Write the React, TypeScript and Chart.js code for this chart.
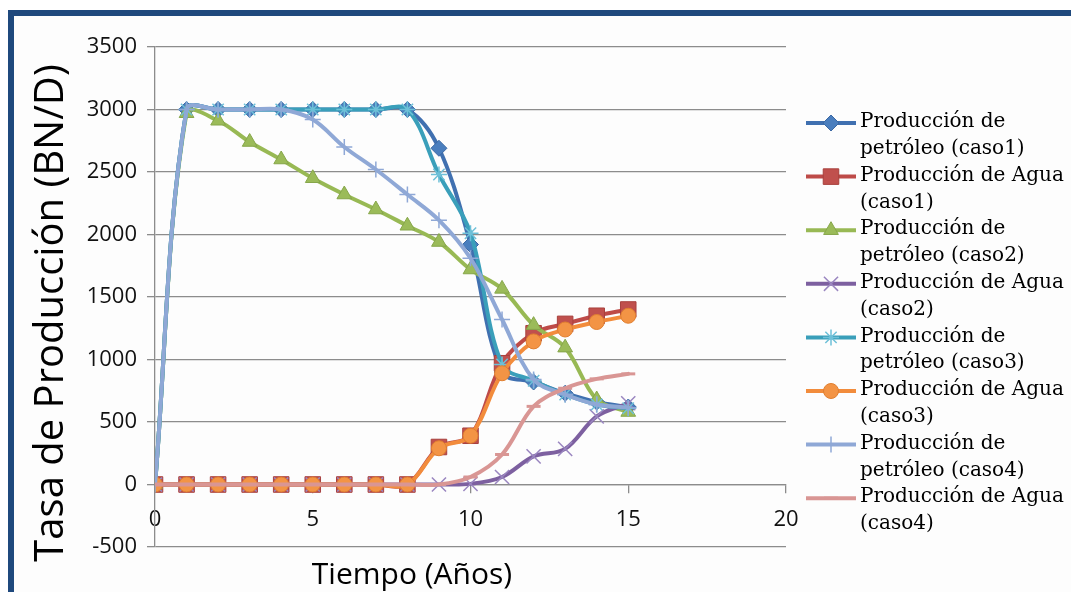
import React, { useEffect, useRef } from 'react';
import { Chart, registerables } from 'chart.js';
import { drawPoint } from 'chart.js/helpers';

Chart.register(...registerables);

// Years of simulation
const years = [0, 1, 2, 3, 4, 5, 6, 7, 8, 9, 10, 11, 12, 13, 14, 15];

// Production rates (BN/D) per case
const oilCaso1 = [0, 3000, 3000, 3000, 3000, 3000, 3000, 3000, 3000, 2690, 1920, 900, 820, 730, 660, 620];
const waterCaso1 = [0, 0, 0, 0, 0, 0, 0, 0, 0, 300, 390, 970, 1210, 1285, 1350, 1400];
const oilCaso2 = [0, 2970, 2910, 2740, 2600, 2450, 2320, 2200, 2070, 1940, 1720, 1565, 1275, 1095, 680, 580];
const waterCaso2 = [0, 0, 0, 0, 0, 0, 0, 0, 0, 0, 5, 60, 225, 285, 545, 650];
const oilCaso3 = [0, 3000, 3000, 3000, 3000, 3000, 3000, 3000, 3000, 2480, 2010, 960, 830, 720, 640, 610];
const waterCaso3 = [0, 0, 0, 0, 0, 0, 0, 0, 0, 290, 390, 890, 1145, 1240, 1300, 1350];
const oilCaso4 = [0, 3000, 3000, 3000, 3000, 2920, 2700, 2520, 2320, 2115, 1810, 1320, 840, 720, 640, 615];
const waterCaso4 = [0, 0, 0, 0, 0, 0, 0, 0, 0, 0, 60, 240, 625, 770, 845, 885];

// Legend labels (two lines each)
const seriesLabels = [
  ['Producción de', 'petróleo (caso1)'],
  ['Producción de Agua', '(caso1)'],
  ['Producción de', 'petróleo (caso2)'],
  ['Producción de Agua', '(caso2)'],
  ['Producción de', 'petróleo (caso3)'],
  ['Producción de Agua', '(caso3)'],
  ['Producción de', 'petróleo (caso4)'],
  ['Producción de Agua', '(caso4)'],
];

// Axis ticks and titles
const xTicks = [0, 5, 10, 15, 20];
const yTicks = [-500, 0, 500, 1000, 1500, 2000, 2500, 3000, 3500];
const xTitle = 'Tiempo (Años)';
const yTitle = 'Tasa de Producción (BN/D)';

const seriesValues = [oilCaso1, waterCaso1, oilCaso2, waterCaso2, oilCaso3, waterCaso3, oilCaso4, waterCaso4];

// Visual style for each series
const seriesStyles = [
  { line: '#4070B0', fill: '#4A7EBE', stroke: '#3B68A3', shape: 'rectRot', r: 8, bw: 1 },
  { line: '#BE4B48', fill: '#C0504D', stroke: '#A8403D', shape: 'rect', r: 11, bw: 1 },
  { line: '#98B954', fill: '#9BBB59', stroke: '#86A64A', shape: 'triangle', r: 8.5, bw: 1 },
  { line: '#7D60A0', fill: '#9A86C0', stroke: '#9A86C0', shape: 'crossRot', r: 10, bw: 1.5 },
  { line: '#3A9FBA', fill: '#6EC0D8', stroke: '#6EC0D8', shape: 'star', r: 8, bw: 1.5 },
  { line: '#F28C3C', fill: '#F39445', stroke: '#E07F30', shape: 'circle', r: 7.5, bw: 1 },
  { line: '#8FA8D6', fill: '#8FA8D6', stroke: '#8FA8D6', shape: 'cross', r: 8, bw: 1.5 },
  { line: '#D99694', fill: '#D99694', stroke: '#D99694', shape: 'line', r: 7, bw: 3 },
];

const gridColor = '#8C8C8C';
const sansFont = '"Open Sans", "DejaVu Sans", sans-serif';

const titlesAndLegend = {
  id: 'titlesAndLegend',
  afterDraw(chart: any) {
    const ctx: CanvasRenderingContext2D = chart.ctx;
    ctx.save();
    ctx.fillStyle = '#000000';
    ctx.textAlign = 'center';
    ctx.textBaseline = 'middle';

    ctx.font = `30px ${sansFont}`;
    ctx.fillText(xTitle, 412, 575);

    ctx.save();
    ctx.translate(52, 313);
    ctx.rotate(-Math.PI / 2);
    ctx.font = `40px ${sansFont}`;
    ctx.fillText(yTitle, 0, 0);
    ctx.restore();

    ctx.textAlign = 'left';
    ctx.font = '20px "DejaVu Serif", serif';
    seriesLabels.forEach((lines, i) => {
      const st = seriesStyles[i];
      const yc = 123 + 53.6 * i;
      ctx.strokeStyle = st.line;
      ctx.lineWidth = 4;
      ctx.lineCap = 'butt';
      ctx.beginPath();
      ctx.moveTo(806, yc);
      ctx.lineTo(856, yc);
      ctx.stroke();
      ctx.fillStyle = st.fill;
      ctx.strokeStyle = st.stroke;
      ctx.lineWidth = st.bw;
      drawPoint(ctx, { pointStyle: st.shape as any, radius: st.r, borderWidth: st.bw, rotation: 0 }, 831, yc);
      ctx.fillStyle = '#000000';
      lines.forEach((t, k) => ctx.fillText(t, 860, yc - 1 + 26.8 * k));
    });
    ctx.restore();
  },
};

export default function App() {
  const canvasRef = useRef<HTMLCanvasElement | null>(null);

  useEffect(() => {
    const canvas = canvasRef.current;
    if (!canvas) return;

    const datasets = seriesValues.map((vals, i) => {
      const st = seriesStyles[i];
      return {
        label: seriesLabels[i].join(' '),
        data: years.map((x, k) => ({ x, y: vals[k] })),
        borderColor: st.line,
        backgroundColor: st.fill,
        borderWidth: 4,
        borderJoinStyle: 'round' as const,
        borderCapStyle: 'round' as const,
        tension: 0.35,
        pointStyle: st.shape as any,
        pointRadius: st.r,
        pointBackgroundColor: st.fill,
        pointBorderColor: st.stroke,
        pointBorderWidth: st.bw,
        order: seriesValues.length - 1 - i,
      };
    });

    const chart = new Chart(canvas, {
      type: 'line',
      data: { datasets },
      options: {
        animation: false,
        responsive: false,
        devicePixelRatio: 1,
        layout: { padding: { left: 0, top: 47, right: 285, bottom: 45 } },
        plugins: { legend: { display: false }, tooltip: { enabled: false } },
        scales: {
          x: {
            type: 'linear',
            position: { y: 0 } as any,
            min: 0,
            max: 20,
            afterBuildTicks: (scale: any) => {
              scale.ticks = xTicks.map((v) => ({ value: v }));
            },
            grid: { drawOnChartArea: false, drawTicks: true, tickLength: 8, color: gridColor, lineWidth: 1.3 },
            border: { display: true, color: gridColor, width: 1.3 },
            ticks: {
              padding: 14,
              color: '#111111',
              font: { family: sansFont, size: 22 },
              maxRotation: 0,
              callback: (v: any) => String(v),
            },
          },
          y: {
            type: 'linear',
            position: 'left',
            min: -500,
            max: 3500,
            afterBuildTicks: (scale: any) => {
              scale.ticks = yTicks.map((v) => ({ value: v }));
            },
            afterFit: (scale: any) => {
              scale.width = 155;
            },
            grid: { drawTicks: true, tickLength: 8, color: gridColor, lineWidth: 1.3 },
            border: { display: true, color: gridColor, width: 1.3 },
            ticks: {
              padding: 10,
              color: '#111111',
              font: { family: sansFont, size: 22 },
              callback: (v: any) => String(v),
            },
          },
        },
      },
      plugins: [titlesAndLegend],
    });

    return () => chart.destroy();
  }, []);

  return (
    <div style={{ position: 'fixed', left: 0, top: 0, width: 1071, height: 592, background: '#ffffff', overflow: 'hidden' }}>
      <div
        style={{
          position: 'absolute',
          left: 8,
          top: 10,
          width: 1100,
          height: 640,
          borderTop: '6px solid #1F497D',
          borderLeft: '6px solid #1F497D',
          background: '#FDFDFD',
        }}
      />
      <canvas ref={canvasRef} width={1071} height={592} style={{ position: 'absolute', left: 0, top: 0 }} />
    </div>
  );
}
